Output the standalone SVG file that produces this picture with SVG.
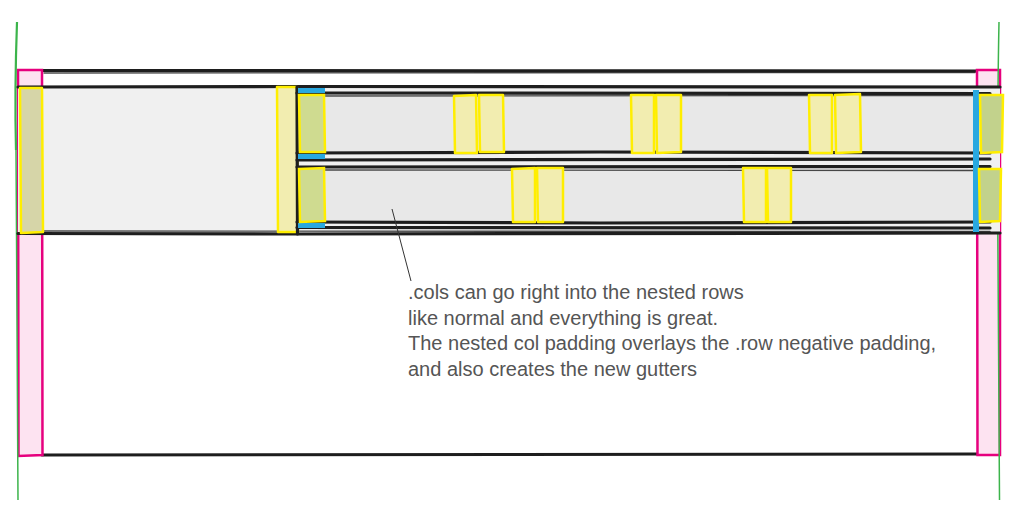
<svg xmlns="http://www.w3.org/2000/svg" width="1024" height="525" viewBox="0 0 1024 525">
<style>
.ink{fill:none;stroke:#1e1e1e;stroke-linecap:round;stroke-linejoin:round}
.thick{stroke-width:3.2}
.thin{stroke-width:1.4;opacity:.8}
.yel{fill:#f2edb0;stroke:#ffee00;stroke-width:2.5;stroke-linejoin:round}
.ycol{fill:#cfdb90;stroke:#ffee00;stroke-width:2.5}
.pink{fill:#fde3f1;stroke:#e6007e;stroke-width:2.5}
.blue{fill:#29a8e0}
.grn{fill:none;stroke:#3cb44b;stroke-width:1.5}
.lbl{font-family:"Liberation Sans",Arial,sans-serif;font-size:20px;fill:#555}
</style>
<rect width="1024" height="525" fill="#fff"/>
<g id="container">
  <rect x="18" y="70" width="982" height="385" fill="#fff"/>
  <path class="ink thick" d="M42 70.5 L977 71"/>
  <path class="ink thin" d="M44 73 L975 72.5"/>
  <path class="ink thick" d="M42 455 L977 454"/>
  <path class="ink thin" d="M18 70 L18 455"/>
  <path class="ink thin" d="M1000 70 L1000 455"/>
</g>
<g id="pink-left"><path class="pink" d="M18 70 L42 70 L42.5 455 L18.5 456 Z"/></g>
<g id="pink-right"><path class="pink" d="M977 70 L1000 70 L1000 455 L977.5 455 Z"/></g>
<g id="green-guides">
  <path class="grn" style="stroke-width:2.2" d="M17 22 Q14.5 90 16 150"/>
  <path class="grn" d="M16 150 L16.5 233 L18 500"/>
  <path class="grn" d="M999 22 Q997 120 998 260 L999.5 500"/>
</g>
<g id="outer-row">
  <rect x="18" y="87" width="982" height="147" fill="#f0f0f0"/>
  <path class="ink thick" d="M18 87 L300 86.5 L1000 87"/>
  <path class="ink thick" d="M18 233.5 L300 234 L1000 233"/>
  <path class="ink thin" d="M40 231 L990 231.5"/>
</g>
<g id="outer-col-left"><path class="yel" style="fill:#d6d5a8" d="M20 88 L42 88 L43 232 L21 233 Z"/></g>
<g id="outer-col-gutter"><path class="yel" d="M277 87 L297 87 L298 232 L278 232 Z"/></g>
<g id="nested-row-1">
  <rect x="297" y="94" width="692" height="59" fill="#e8e8e8"/>
  <path class="ink thick" d="M297 93 L990 93.5"/>
  <path class="ink thin" d="M300 96 L985 95.5"/>
  <path class="ink thick" d="M297 153 L600 152 L990 153"/>
  <path class="ink thick" d="M297 160 L990 159"/>
</g>
<g id="nested-row-2">
  <rect x="297" y="168" width="692" height="55" fill="#e8e8e8"/>
  <path class="ink thick" d="M297 167 L990 166.5"/>
  <path class="ink thin" d="M300 170 L985 170.5"/>
  <path class="ink thick" d="M297 222 L600 223 L990 222"/>
  <path class="ink thick" d="M297 227.5 L990 228"/>
</g>
<g id="nested-vertical"><path class="ink thick" d="M297 87 L297.5 234"/></g>
<g id="row-padding-blue">
  <rect class="blue" x="298" y="88" width="27" height="5"/>
  <rect class="blue" x="298" y="154" width="27" height="5"/>
  <rect class="blue" x="298" y="223" width="27" height="5"/>
  <rect class="blue" x="973" y="90" width="6" height="142"/>
</g>
<g id="col-left-1"><path class="ycol" d="M299 95 L324 95 L325 152 L300 152 Z"/></g>
<g id="col-left-2"><path class="ycol" d="M299 169 L324 168 L325 221 L300 222 Z"/></g>
<g id="col-right-1"><path class="ycol" style="fill:#c2d28c" d="M980 95 L1003 95 L1002 152 L981 153 Z"/></g>
<g id="col-right-2"><path class="ycol" style="fill:#c2d28c" d="M979 169 L1001 169 L1000 221 L980 222 Z"/></g>
<g id="gutters-row-1">
  <path class="yel" d="M454 96 L476 95 L477 153 L455 153 Z"/>
  <path class="yel" d="M479 95 L503 95 L504 152 L480 152 Z"/>
  <path class="yel" d="M631 95 L654 95 L654 153 L632 153 Z"/>
  <path class="yel" d="M656 95 L681 95 L681 152 L657 153 Z"/>
  <path class="yel" d="M809 95 L832 95 L832 153 L810 153 Z"/>
  <path class="yel" d="M835 95 L860 94 L861 152 L836 153 Z"/>
</g>
<g id="gutters-row-2">
  <path class="yel" d="M512 169 L535 168 L535 222 L513 222 Z"/>
  <path class="yel" d="M537 168 L563 168 L563 222 L538 222 Z"/>
  <path class="yel" d="M743 168 L766 168 L766 222 L744 222 Z"/>
  <path class="yel" d="M767 168 L791 168 L791 222 L768 222 Z"/>
</g>
<g id="connectors"><path d="M392 209 L411 281" fill="none" stroke="#333" stroke-width="1"/></g>
<g id="note">
  <text class="lbl" x="408" y="299">.cols can go right into the nested rows</text>
  <text class="lbl" x="408" y="325">like normal and everything is great.</text>
  <text class="lbl" x="408" y="350">The nested col padding overlays the .row negative padding,</text>
  <text class="lbl" x="408" y="376">and also creates the new gutters</text>
</g>
</svg>
